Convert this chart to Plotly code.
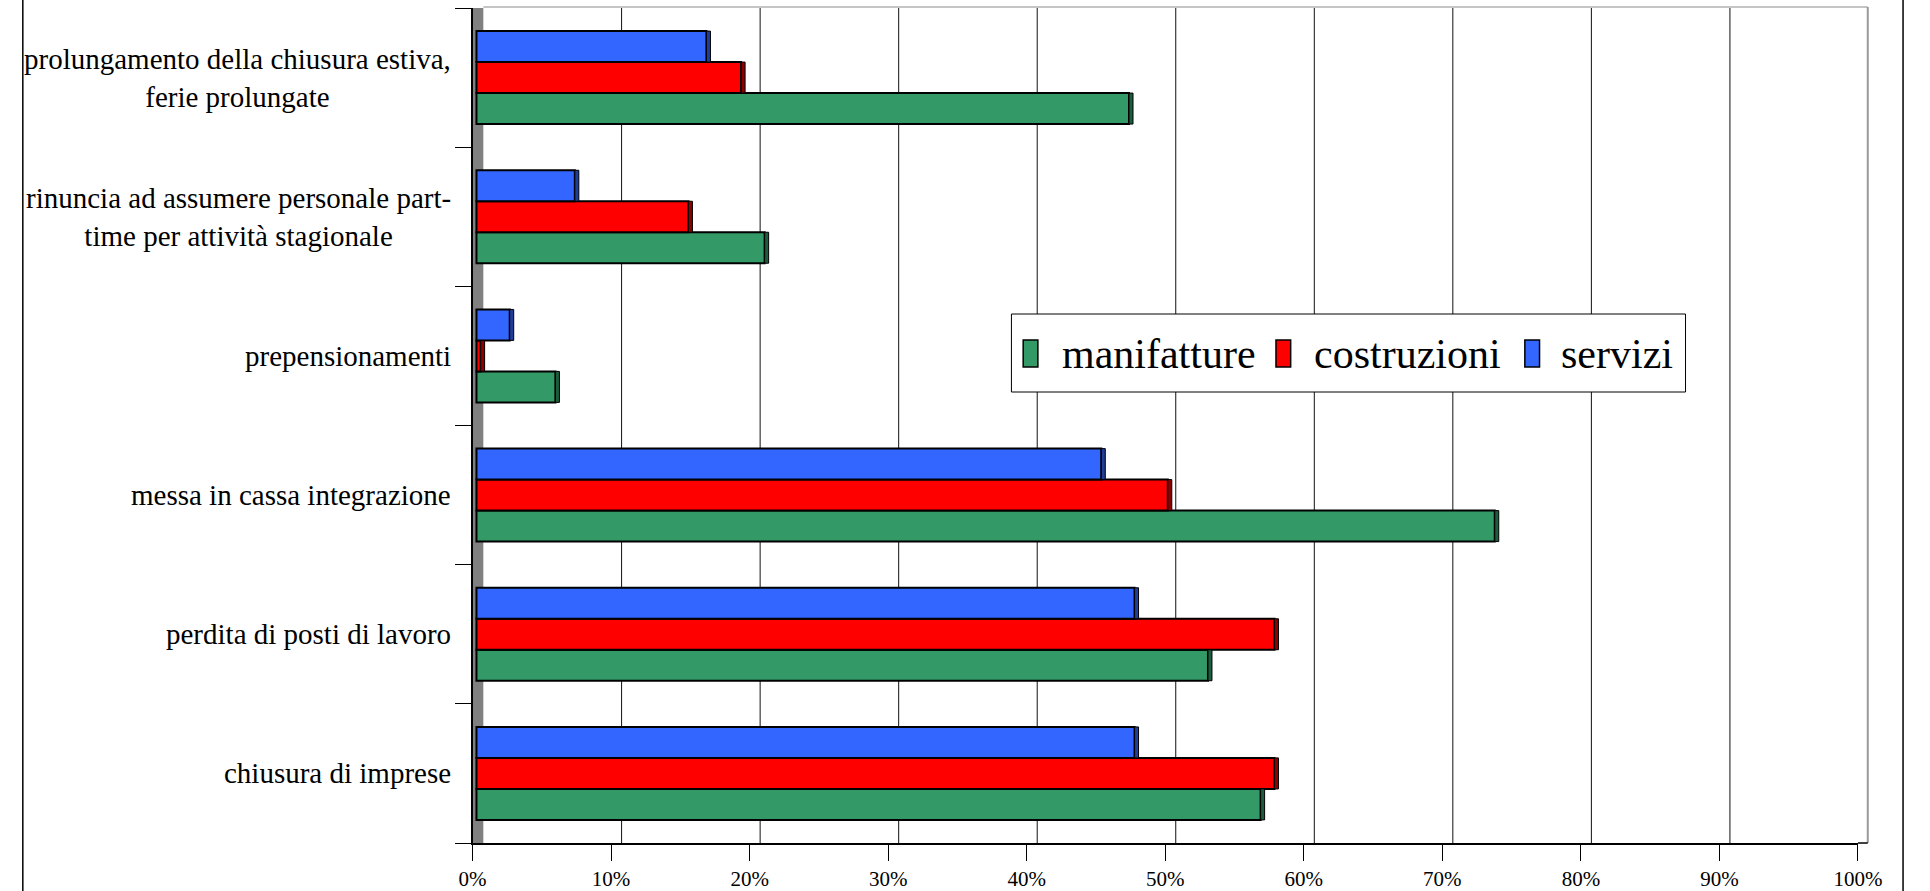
import plotly.graph_objects as go

W, H = 1930, 891

# Categories, listed from the top row to the bottom row
categories = [
    "prolungamento della chiusura estiva,<br>ferie prolungate",
    "rinuncia ad assumere personale part-<br>time per attività stagionale",
    "prepensionamenti",
    "messa in cassa integrazione",
    "perdita di posti di lavoro",
    "chiusura di imprese",
]

series_names = ["manifatture", "costruzioni", "servizi"]
manifatture = [0.471, 0.208, 0.057, 0.735, 0.528, 0.566]
costruzioni = [0.191, 0.153, 0.003, 0.499, 0.576, 0.576]
servizi = [0.166, 0.071, 0.024, 0.451, 0.475, 0.475]
series_colors = ["#339966", "#FF0000", "#3366FF"]
side_colors = ["#1d5c3c", "#8c0000", "#1f3d99"]

tick_values = [i / 10 for i in range(11)]

FONT = "Liberation Serif, Times New Roman, serif"

# pixel helpers for decorations
def px(x):
    return x / W

def py(y):
    return 1 - y / H

plot_left, plot_right = 468, 1882
plot_top, plot_bottom = 8, 843
span = plot_right - plot_left
bar_shift = 4 / span          # bars start slightly inside the side wall
depth = 10.5                   # back-wall offset in pixels
bargap = 0.332

series_values = [manifatture, costruzioni, servizi]

fig = go.Figure()

for name, vals, col in zip(series_names, series_values, series_colors):
    fig.add_trace(go.Bar(
        name=name, x=vals, y=categories, orientation="h",
        marker=dict(color=col, line=dict(color="black", width=2)),
        xaxis="x", yaxis="y", showlegend=False,
    ))

# carrier for the labelled value axis
fig.add_trace(go.Scatter(x=[], y=[], xaxis="x2", yaxis="y", showlegend=False, hoverinfo="skip"))

shapes = []
# side wall
shapes.append(dict(type="rect", xref="paper", yref="paper", layer="below",
                   x0=px(plot_left), x1=px(plot_left + 11), y0=py(plot_bottom), y1=py(plot_top),
                   fillcolor="#808080", line=dict(width=0)))
# back wall outline
shapes.append(dict(type="line", xref="paper", yref="paper", layer="below",
                   x0=px(plot_left + 11), x1=px(plot_right + 10), y0=py(plot_top - 1), y1=py(plot_top - 1),
                   line=dict(color="#b0b0b0", width=1.5)))
shapes.append(dict(type="line", xref="paper", yref="paper", layer="below",
                   x0=px(plot_right + 10), x1=px(plot_right + 10), y0=py(plot_bottom), y1=py(plot_top - 1),
                   line=dict(color="#999999", width=2)))
# floor edge extension
shapes.append(dict(type="line", xref="paper", yref="paper",
                   x0=px(plot_right), x1=px(plot_right + 10), y0=py(plot_bottom), y1=py(plot_bottom),
                   line=dict(color="black", width=1.5)))
# gridlines on the back wall
for v in tick_values[1:-1]:
    shapes.append(dict(type="line", xref="x2", yref="paper", layer="below",
                       xsizemode="pixel", xanchor=v, x0=depth, x1=depth,
                       y0=py(plot_bottom), y1=py(plot_top),
                       line=dict(color="#111111", width=1)))
# chart frame sides
for xf in (9, 1928):
    shapes.append(dict(type="line", xref="paper", yref="paper",
                       x0=px(xf), x1=px(xf), y0=0, y1=1,
                       line=dict(color="black", width=1.5)))

# shaded end faces of the bars (3D look)
n_cat = len(categories)
n_ser = len(series_names)
bw = (1 - bargap) / n_ser
for i, (vals, sc) in enumerate(zip(series_values, side_colors)):
    for j, v in enumerate(vals):
        pos = n_cat - 1 - j
        y0 = pos + (i - n_ser / 2) * bw
        shapes.append(dict(type="rect", xref="x", yref="y",
                           xsizemode="pixel", xanchor=v, x0=0, x1=4,
                           y0=y0, y1=y0 + bw,
                           fillcolor=sc, line=dict(color="black", width=1)))

# legend box
legend_box = dict(x0=1018, x1=1706, y0=314, y1=392)
shapes.append(dict(type="rect", xref="paper", yref="paper",
                   x0=px(legend_box["x0"]), x1=px(legend_box["x1"]),
                   y0=py(legend_box["y1"]), y1=py(legend_box["y0"]),
                   fillcolor="white", line=dict(color="black", width=1)))
legend_swatch_x = [1030, 1288, 1542]
legend_text_x = [1068, 1325, 1577]
annotations = []
for name, col, sx, tx in zip(series_names, series_colors, legend_swatch_x, legend_text_x):
    shapes.append(dict(type="rect", xref="paper", yref="paper",
                       x0=px(sx), x1=px(sx + 15), y0=py(367), y1=py(340),
                       fillcolor=col, line=dict(color="black", width=1.5)))
    annotations.append(dict(
        x=px(tx), y=py(354), xref="paper", yref="paper",
        text=name, showarrow=False, xanchor="left", yanchor="middle",
        font=dict(family=FONT, size=42, color="black"),
    ))

for cat in categories:
    annotations.append(dict(
        x=px(448), y=cat, xref="paper", yref="y",
        text=cat, showarrow=False, xanchor="right", yanchor="middle", align="center",
        font=dict(family=FONT, size=29, color="black"),
    ))

fig.update_layout(
    width=W, height=H,
    margin=dict(l=0, r=0, t=0, b=0),
    paper_bgcolor="white", plot_bgcolor="rgba(0,0,0,0)",
    barmode="group", bargap=bargap, bargroupgap=0,
    font=dict(family=FONT, color="black"),
    showlegend=False,
    xaxis=dict(
        domain=[px(plot_left), px(plot_right)],
        range=[-bar_shift, 1 - bar_shift],
        showticklabels=False, ticks="", showgrid=False, zeroline=False, showline=False,
    ),
    xaxis2=dict(
        overlaying="x", anchor="y", side="bottom",
        range=[0, 1], tickvals=tick_values, tickformat=".0%",
        ticks="outside", ticklen=16, tickcolor="black", tickwidth=1,
        tickfont=dict(family=FONT, size=21, color="black"),
        showgrid=False, zeroline=False, showline=True, linecolor="black", linewidth=1.5,
    ),
    yaxis=dict(
        domain=[py(plot_bottom), py(plot_top)],
        type="category", categoryorder="array", categoryarray=categories[::-1],
        range=[-0.5, n_cat - 0.5],
        tickson="boundaries", ticks="outside", ticklen=16, tickcolor="black", tickwidth=1,
        showticklabels=False, showgrid=False, zeroline=False,
        showline=True, linecolor="black", linewidth=1.5,
    ),
    shapes=shapes,
    annotations=annotations,
)

fig.write_html("out.html")
